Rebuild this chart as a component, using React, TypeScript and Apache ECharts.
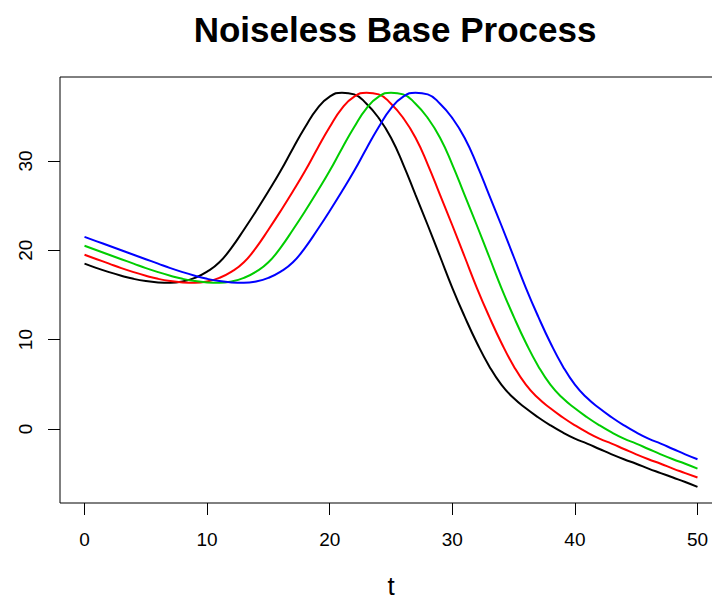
import React, { useEffect, useRef } from "react";
import * as echarts from "echarts";

const tValues = [0, 1, 2, 3, 4, 5, 6, 7, 8, 9, 10, 11, 12, 13, 14, 15, 16, 17, 18, 19, 20, 21, 22, 23, 24, 25, 26, 27, 28, 29, 30, 31, 32, 33, 34, 35, 36, 37, 38, 39, 40, 41, 42, 43, 44, 45, 46, 47, 48, 49, 50];

const blackSeries = [18.5, 18.0, 17.55, 17.15, 16.8, 16.55, 16.4, 16.35, 16.5, 16.9, 17.6, 18.65, 20.3, 22.3, 24.4, 26.6, 28.9, 31.4, 33.8, 35.9, 37.2, 37.65, 37.45, 36.4, 34.8, 32.6, 29.6, 26.2, 22.8, 19.3, 15.8, 12.6, 9.65, 7.05, 4.95, 3.45, 2.3, 1.3, 0.4, -0.4, -1.1, -1.65, -2.25, -2.85, -3.4, -3.9, -4.45, -4.95, -5.45, -5.95, -6.5];

const redSeries = [19.5, 19.0, 18.5, 18.0, 17.55, 17.15, 16.8, 16.55, 16.4, 16.35, 16.5, 16.9, 17.6, 18.65, 20.3, 22.3, 24.4, 26.6, 28.9, 31.4, 33.8, 35.9, 37.2, 37.65, 37.45, 36.4, 34.8, 32.6, 29.6, 26.2, 22.8, 19.3, 15.8, 12.6, 9.65, 7.05, 4.95, 3.45, 2.3, 1.3, 0.4, -0.4, -1.1, -1.65, -2.25, -2.85, -3.4, -3.9, -4.45, -4.95, -5.45];

const greenSeries = [20.5, 20.0, 19.5, 19.0, 18.5, 18.0, 17.55, 17.15, 16.8, 16.55, 16.4, 16.35, 16.5, 16.9, 17.6, 18.65, 20.3, 22.3, 24.4, 26.6, 28.9, 31.4, 33.8, 35.9, 37.2, 37.65, 37.45, 36.4, 34.8, 32.6, 29.6, 26.2, 22.8, 19.3, 15.8, 12.6, 9.65, 7.05, 4.95, 3.45, 2.3, 1.3, 0.4, -0.4, -1.1, -1.65, -2.25, -2.85, -3.4, -3.9, -4.45];

const blueSeries = [21.5, 21.0, 20.5, 20.0, 19.5, 19.0, 18.5, 18.0, 17.55, 17.15, 16.8, 16.55, 16.4, 16.35, 16.5, 16.9, 17.6, 18.65, 20.3, 22.3, 24.4, 26.6, 28.9, 31.4, 33.8, 35.9, 37.2, 37.65, 37.45, 36.4, 34.8, 32.6, 29.6, 26.2, 22.8, 19.3, 15.8, 12.6, 9.65, 7.05, 4.95, 3.45, 2.3, 1.3, 0.4, -0.4, -1.1, -1.65, -2.25, -2.85, -3.4];

const xTicks = [0, 10, 20, 30, 40, 50];
const yTicks = [0, 10, 20, 30];

const seriesList = [
  { name: "black", color: "#000000", values: blackSeries },
  { name: "red", color: "#FF0000", values: redSeries },
  { name: "green", color: "#00CD00", values: greenSeries },
  { name: "blue", color: "#0000FF", values: blueSeries },
];

const FONT = "'Liberation Sans', Arial, Helvetica, sans-serif";

export default function App() {
  const ref = useRef<HTMLDivElement>(null);
  useEffect(() => {
    document.body.style.margin = "0";
    document.body.style.overflow = "hidden";
    if (!ref.current) return;
    const chart = echarts.init(ref.current, undefined, { renderer: "svg" });
    chart.setOption({
      animation: false,
      backgroundColor: "#ffffff",
      title: {
        text: "Noiseless Base Process",
        left: 390,
        top: 7,
        textAlign: "center",
        textStyle: { fontFamily: FONT, fontSize: 35, fontWeight: "bold", color: "#000" },
      },
      grid: {
        left: 60,
        top: 77,
        right: 0,
        bottom: 97,
        show: true,
        borderColor: "#000",
        borderWidth: 1,
        backgroundColor: "transparent",
        containLabel: false,
        outerBoundsMode: "none",
      },
      xAxis: {
        type: "value",
        min: -2,
        max: 52,
        name: "t",
        nameLocation: "middle",
        nameGap: 70,
        nameTextStyle: { fontFamily: FONT, fontSize: 26, color: "#000" },
        axisLine: { show: false, onZero: false },
        splitLine: { show: false },
        axisTick: { show: true, length: 12, customValues: xTicks, lineStyle: { color: "#000", width: 1 } },
        axisLabel: { customValues: xTicks, fontFamily: FONT, fontSize: 19, color: "#000", margin: 27 },
      },
      yAxis: {
        type: "value",
        min: -8.3,
        max: 39.4,
        axisLine: { show: false, onZero: false },
        splitLine: { show: false },
        axisTick: { show: true, length: 12, customValues: yTicks, lineStyle: { color: "#000", width: 1 } },
        axisLabel: { customValues: yTicks, rotate: 90, fontFamily: FONT, fontSize: 19, color: "#000", margin: 25 },
      },
      series: seriesList.map((s) => ({
        name: s.name,
        type: "line",
        data: tValues.map((t, i) => [t, s.values[i]]),
        showSymbol: false,
        smooth: 0.5,
        lineStyle: { color: s.color, width: 2 },
        itemStyle: { color: s.color },
      })),
    });
    return () => chart.dispose();
  }, []);
  return <div ref={ref} style={{ width: 722, height: 600 }} />;
}
